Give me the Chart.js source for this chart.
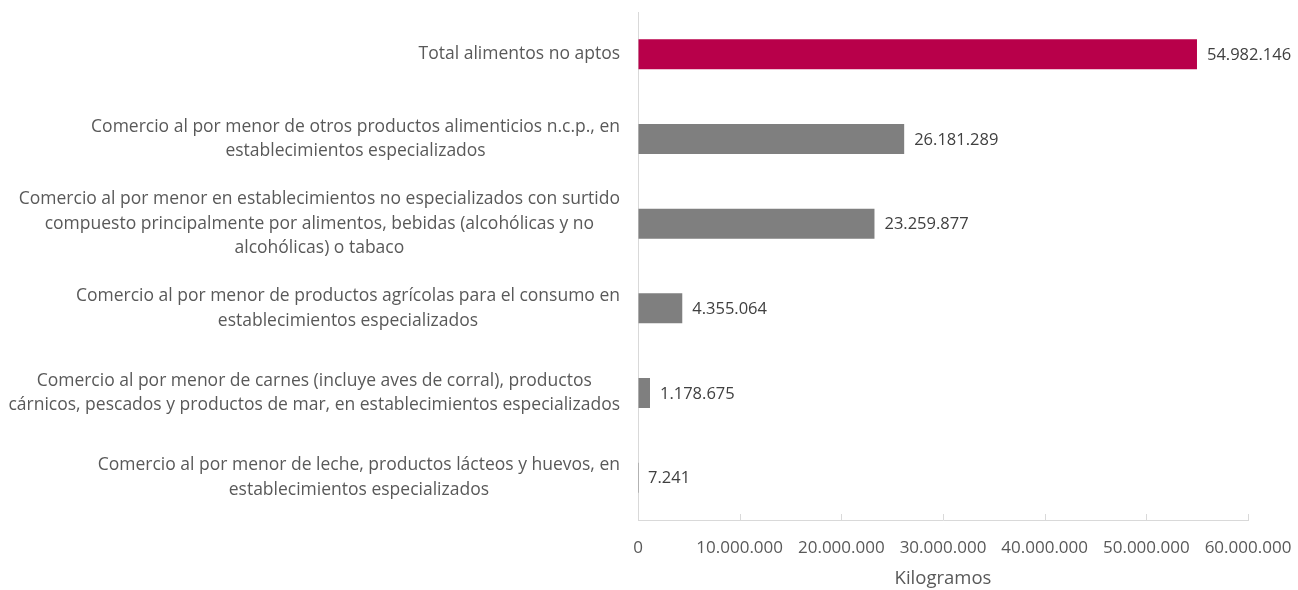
<!DOCTYPE html>
<html>
<head>
<meta charset="utf-8">
<script src="https://cdn.jsdelivr.net/npm/chart.js@4/dist/chart.umd.min.js"></script>
<style>
  html, body { margin: 0; padding: 0; background: #fff; }
  #wrap { width: 1298px; height: 590px; }
</style>
</head>
<body>
<div id="wrap"><canvas id="chart"></canvas></div>
<script>
// categories (each one split in the lines shown in the picture)
var categories = [
    ['Total alimentos no aptos'],
    ['Comercio al por menor de otros productos alimenticios n.c.p., en', 'establecimientos especializados'],
    ['Comercio al por menor en establecimientos no especializados con surtido', 'compuesto principalmente por alimentos, bebidas (alcohólicas y no', 'alcohólicas) o tabaco'],
    ['Comercio al por menor de productos agrícolas para el consumo en', 'establecimientos especializados'],
    ['Comercio al por menor de carnes (incluye aves de corral), productos', 'cárnicos, pescados y productos de mar, en establecimientos especializados'],
    ['Comercio al por menor de leche, productos lácteos y huevos, en', 'establecimientos especializados']
];
var kilos = [54982146, 26181289, 23259877, 4355064, 1178675, 7241];
var axisTicks = [0, 10000000, 20000000, 30000000, 40000000, 50000000, 60000000];
var axisTitle = 'Kilogramos';

var FONT = '"Open Sans", sans-serif';
var SIZE = 17;
var TEXT = '#595959';
var AXIS = '#d9d9d9';

function fmt(n) {
    return String(n).replace(/\B(?=(\d{3})+(?!\d))/g, '.');
}

// category labels: block right-aligned against the axis, lines centred in the block
var yLabels = {
    id: 'yLabels',
    afterDraw: function(chart) {
        var ctx = chart.ctx;
        var y = chart.scales.y;
        var right = chart.chartArea.left - 18;
        var lh = 24.5;
        ctx.save();
        ctx.font = '17.5px ' + FONT;
        ctx.fillStyle = TEXT;
        ctx.textAlign = 'center';
        ctx.textBaseline = 'middle';
        categories.forEach(function(lines, i) {
            var w = 0;
            lines.forEach(function(l) { w = Math.max(w, ctx.measureText(l).width); });
            var cx = right - w / 2;
            var cy = y.getPixelForValue(i);
            var top = cy - (lines.length - 1) * lh / 2;
            lines.forEach(function(l, k) {
                ctx.fillText(l, cx, top + k * lh);
            });
        });
        ctx.restore();
    }
};

// value labels at the end of each bar
var valueLabels = {
    id: 'valueLabels',
    afterDatasetsDraw: function(chart) {
        var ctx = chart.ctx;
        var meta = chart.getDatasetMeta(0);
        ctx.save();
        ctx.font = '16.5px ' + FONT;
        ctx.fillStyle = '#404040';
        ctx.textAlign = 'left';
        ctx.textBaseline = 'middle';
        meta.data.forEach(function(bar, i) {
            ctx.fillText(fmt(kilos[i]), bar.x + 10, bar.y + 1);
        });
        ctx.restore();
    }
};

// small tick marks pointing up from the x axis
var xTickMarks = {
    id: 'xTickMarks',
    afterDraw: function(chart) {
        var ctx = chart.ctx;
        var x = chart.scales.x;
        var b = chart.chartArea.bottom;
        ctx.save();
        ctx.strokeStyle = AXIS;
        ctx.lineWidth = 1;
        axisTicks.forEach(function(t) {
            if (t === 0) return;
            var px = Math.round(x.getPixelForValue(t)) + 0.5;
            ctx.beginPath();
            ctx.moveTo(px, b);
            ctx.lineTo(px, b - 6);
            ctx.stroke();
        });
        ctx.restore();
    }
};

var ctx = document.getElementById('chart').getContext('2d');
var chart = new Chart(ctx, {
    type: 'bar',
    data: {
        labels: categories,
        datasets: [{
            data: kilos,
            backgroundColor: kilos.map(function(v, i) { return i === 0 ? '#b8004a' : '#7f7f7f'; }),
            borderWidth: 0,
            barPercentage: 0.355,
            categoryPercentage: 1
        }]
    },
    options: {
        indexAxis: 'y',
        responsive: true,
        maintainAspectRatio: false,
        animation: false,
        layout: { padding: { top: 12, right: 50, left: 0, bottom: 0 } },
        plugins: {
            legend: { display: false },
            tooltip: { enabled: false }
        },
        scales: {
            x: {
                min: 0,
                max: 60000000,
                afterBuildTicks: function(scale) {
                    scale.ticks = axisTicks.map(function(v) { return { value: v }; });
                },
                grid: { display: true, drawOnChartArea: false, drawTicks: false },
                border: { display: true, color: AXIS, width: 1 },
                ticks: {
                    padding: 18,
                    color: TEXT,
                    font: { family: FONT, size: SIZE },
                    maxRotation: 0,
                    callback: function(v) { return fmt(v); }
                },
                title: {
                    display: true,
                    text: axisTitle,
                    color: TEXT,
                    font: { family: FONT, size: 18.5 },
                    padding: { top: 0, bottom: 0 }
                },
                afterFit: function(scale) {
                    scale.height = 70;
                    scale.paddingLeft = 0;
                    scale.paddingRight = 0;
                }
            },
            y: {
                grid: { display: false, drawTicks: false },
                border: { display: true, color: AXIS, width: 1 },
                ticks: { display: false },
                afterFit: function(scale) { scale.width = 638; }
            }
        }
    },
    plugins: [yLabels, valueLabels, xTickMarks]
});
</script>
</body>
</html>
